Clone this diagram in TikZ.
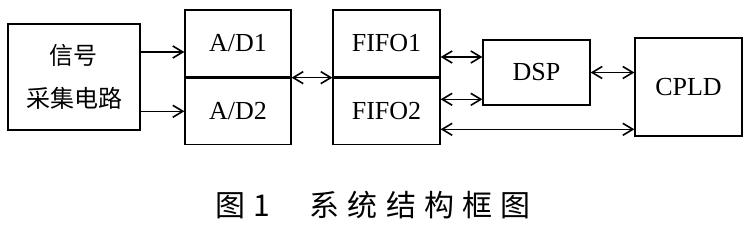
\documentclass[tikz,border=0pt]{standalone}
\usepackage{fontspec}
\usepackage{tikz}
\usetikzlibrary{arrows.meta,positioning,calc}
\setmainfont{Liberation Serif}
\newfontfamily\cjk{Noto Sans CJK SC}
\newfontfamily\capcjk[LetterSpace=27]{Noto Sans CJK SC}
\tikzset{blk/.style={draw=black,line width=1.3pt,inner sep=0pt,align=center,font=\fontsize{26}{43}\selectfont},link/.style={{Straight Barb[length=10pt,width=12pt]}-{Straight Barb[length=10pt,width=12pt]},line width=1.6pt},feed/.style={-{Straight Barb[length=10pt,width=12pt]},line width=1.6pt}}

\begin{document}
\begin{tikzpicture}[x=1pt,y=1pt]
\useasboundingbox (0,0) rectangle (744,226);
\node[blk,minimum width=132pt,minimum height=106pt,font=\fontsize{24}{43}\selectfont] (sig) at (74,149) {\cjk 信号\\\cjk 采集电路};
\node[blk,minimum width=106pt,minimum height=67pt] (ad1) at (238,182.5) {A/D1};
\node[blk,minimum width=106pt,minimum height=66pt,below=0pt of ad1] (ad2) {A/D2};
\node[blk,minimum width=107pt,minimum height=67pt] (fifo1) at (386.5,182.5) {FIFO1};
\node[blk,minimum width=107pt,minimum height=66pt,below=0pt of fifo1] (fifo2) {FIFO2};
\node[blk,minimum width=107pt,minimum height=65pt] (dsp) at (536.5,153.5) {DSP};
\node[blk,minimum width=107pt,minimum height=98pt] (cpld) at (688.5,139) {CPLD};
\node[font=\fontsize{30}{32}\selectfont,anchor=west,inner sep=0pt] (cap) at (215,21) {\capcjk 图\hspace{8pt}1\hspace{40pt}系统结构框图};
\draw[feed] (sig.east) ++(0,25) coordinate (s1) -- (s1 -| ad1.west);
\draw[feed] (sig.east |- ad2) -- (ad2.west);
\draw[link] (ad1.south east) -- (fifo1.south west);
\draw[link] (fifo1.east) ++(0,-13.5) coordinate (f1) -- (f1 -| dsp.west);
\draw[link] (fifo2.east) ++(0,12) coordinate (f2) -- (f2 -| dsp.west);
\draw[link] (dsp.east) -- (dsp -| cpld.west);
\draw[link] (fifo2.east) ++(0,-18) coordinate (f3) -- (f3 -| cpld.west);
\end{tikzpicture}
\end{document}
